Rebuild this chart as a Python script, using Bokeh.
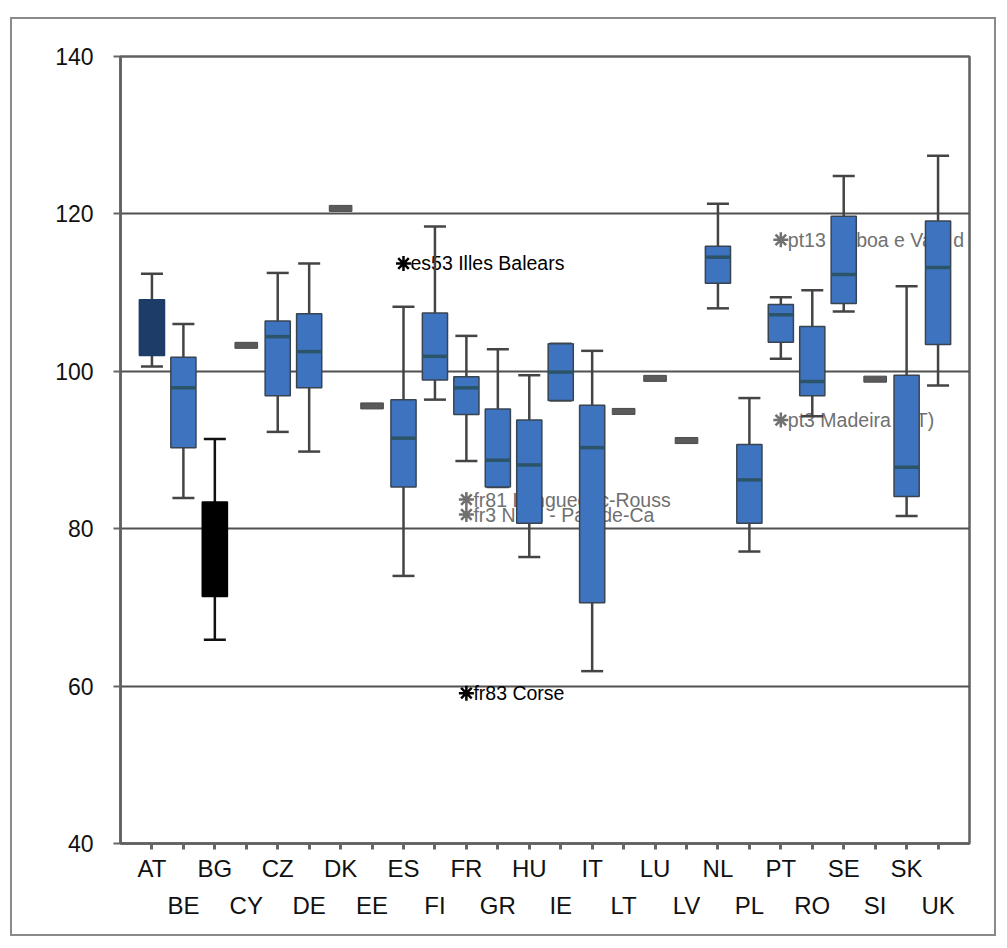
from bokeh.plotting import figure
from bokeh.models import Range1d, FixedTicker, LinearAxis, ColumnDataSource
from bokeh.embed import file_html
from bokeh.resources import INLINE
from bokeh.core.properties import value

# ---------------- data ----------------
categories = ["AT", "BE", "BG", "CY", "CZ", "DE", "DK", "EE", "ES", "FI", "FR", "GR", "HU",
              "IE", "IT", "LT", "LU", "LV", "NL", "PL", "PT", "RO", "SE", "SI", "SK", "UK"]

box_cats = ["AT", "BE", "BG", "CZ", "DE", "ES", "FI", "FR", "GR", "HU", "IE", "IT", "NL",
            "PL", "PT", "RO", "SE", "SK", "UK"]
box_lower = [100.6, 83.9, 65.9, 92.3, 89.8, 74.0, 96.4, 88.6, 85.3, 76.4, 96.3, 61.9, 108.0,
             77.1, 101.6, 94.3, 107.6, 81.6, 98.2]
box_q1 = [102.0, 90.3, 71.4, 96.9, 97.9, 85.3, 98.9, 94.5, 85.3, 80.7, 96.3, 70.6, 111.2,
          80.7, 103.7, 96.9, 108.6, 84.1, 103.4]
box_median = [104.5, 97.9, 77.0, 104.4, 102.5, 91.5, 101.9, 97.9, 88.7, 88.1, 99.9, 90.3, 114.5,
              86.2, 107.2, 98.7, 112.3, 87.8, 113.2]
box_q3 = [109.1, 101.8, 83.4, 106.4, 107.3, 96.4, 107.4, 99.3, 95.2, 93.8, 103.5, 95.7, 115.9,
          90.7, 108.5, 105.7, 119.7, 99.5, 119.1]
box_upper = [112.4, 106.0, 91.4, 112.5, 113.7, 108.2, 118.4, 104.5, 102.8, 99.5, 103.5, 102.6, 121.3,
             96.6, 109.4, 110.3, 124.8, 110.8, 127.4]

single_cats = ["CY", "DK", "EE", "LT", "LU", "LV", "SI"]
single_vals = [103.3, 120.7, 95.6, 94.9, 99.1, 91.2, 99.0]

outlier_cats = ["ES", "FR", "FR", "FR", "PT", "PT"]
outlier_vals = [113.7, 83.7, 81.8, 59.1, 116.7, 93.8]
outlier_labels = ["es53 Illes Balears", "fr81 Languedoc-Rouss", "fr3 Nord - Pas-de-Ca",
                  "fr83 Corse", "pt13 Lisboa e Vale d", "pt3 Madeira (PT)"]

y_ticks = [40, 60, 80, 100, 120, 140]
grid_vals = [60, 80, 100, 120]

# ---------------- styles ----------------
FONT = "Liberation Sans"
BOX_BLUE = "#3d73bf"
special_fill = {"AT": "#1d3c68", "BG": "#000000"}
black_labels = {"es53 Illes Balears", "fr83 Corse"}

pos = {c: i + 1 for i, c in enumerate(categories)}

bx = [pos[c] for c in box_cats]
fills = [special_fill.get(c, BOX_BLUE) for c in box_cats]
outlines = ["#000000" if c == "BG" else ("#1d3c68" if c == "AT" else "#3a4450") for c in box_cats]
med_cols = [special_fill.get(c, "#2c5468") for c in box_cats]
whisk_cols = ["#111111" if c == "BG" else "#444444" for c in box_cats]

box_src = ColumnDataSource(dict(
    x=bx, lo=box_lower, q1=box_q1, med=box_median, q3=box_q3, hi=box_upper,
    xl=[x - 0.35 for x in bx], xr=[x + 0.35 for x in bx],
    ml=[x - 0.4 for x in bx], mr=[x + 0.4 for x in bx],
    fill=fills, outline=outlines, medc=med_cols, wc=whisk_cols,
))

p = figure(width=986, height=919, x_range=Range1d(0, 27), y_range=Range1d(40, 140),
           output_backend="svg", toolbar_location=None,
           min_border_left=108, min_border_top=37, min_border_right=29, min_border_bottom=95,
           x_axis_location=None, y_axis_location="left")
p.styles = {"border": "2px solid #8a8a8a", "margin-left": "10px", "margin-top": "17px"}
p.background_fill_color = "white"
p.border_fill_color = "white"
p.outline_line_color = "#606060"
p.outline_line_width = 2.5

# y axis
ya = p.yaxis[0]
ya.ticker = FixedTicker(ticks=y_ticks)
ya.minor_tick_line_color = None
ya.axis_line_color = "#606060"
ya.axis_line_width = 2.5
ya.major_tick_line_color = "#666666"
ya.major_tick_line_width = 2
ya.major_tick_out = 7
ya.major_tick_in = 0
ya.major_label_standoff = 20
ya.major_label_text_font = FONT
ya.major_label_text_font_size = "23px"
ya.major_label_text_color = "#111111"

# x axes (staggered labels)
xticks = [pos[c] for c in categories]
x1 = LinearAxis(ticker=FixedTicker(ticks=xticks))
x1.major_label_overrides = {pos[c]: (c if i % 2 == 0 else "") for i, c in enumerate(categories)}
x1.minor_tick_line_color = None
x1.axis_line_color = "#606060"
x1.axis_line_width = 2.5
x1.major_tick_line_color = "#666666"
x1.major_tick_line_width = 3
x1.major_tick_out = 6
x1.major_tick_in = 0
x1.major_label_standoff = 5
x1.major_label_text_font = FONT
x1.major_label_text_font_size = "24px"
x1.major_label_text_color = "#111111"
p.add_layout(x1, "below")

odd_ticks = [pos[c] for i, c in enumerate(categories) if i % 2 == 1]
x2 = LinearAxis(ticker=FixedTicker(ticks=odd_ticks))
x2.major_label_overrides = {pos[c]: c for i, c in enumerate(categories) if i % 2 == 1}
x2.minor_tick_line_color = None
x2.axis_line_color = None
x2.major_tick_line_color = None
x2.major_tick_out = 0
x2.major_tick_in = 0
x2.major_label_standoff = 7
x2.major_label_text_font = FONT
x2.major_label_text_font_size = "24px"
x2.major_label_text_color = "#111111"
p.add_layout(x2, "below")

# grid
p.xgrid.grid_line_color = None
p.ygrid.ticker = FixedTicker(ticks=grid_vals)
p.ygrid.grid_line_color = "#505050"
p.ygrid.grid_line_width = 2.2

# outlier labels (drawn under the boxes)
ox = [pos[c] for c in outlier_cats]
ocol = ["#000000" if t in black_labels else "#707070" for t in outlier_labels]
osrc = ColumnDataSource(dict(x=ox, y=outlier_vals, t=outlier_labels, c=ocol))
p.text(x="x", y="y", text="t", source=osrc, x_offset=7, text_baseline="middle",
       text_align="left", text_font=value(FONT), text_font_size="19.5px", text_color="c")
p.scatter(x="x", y="y", source=osrc, marker="asterisk", size=15, line_color="c", line_width=2.5)

# whiskers and caps
p.segment(x0="x", y0="q3", x1="x", y1="hi", source=box_src, line_color="wc", line_width=2.5)
p.segment(x0="x", y0="q1", x1="x", y1="lo", source=box_src, line_color="wc", line_width=2.5)
p.segment(x0="xl", y0="hi", x1="xr", y1="hi", source=box_src, line_color="wc", line_width=2.5)
p.segment(x0="xl", y0="lo", x1="xr", y1="lo", source=box_src, line_color="wc", line_width=2.5)

# boxes
p.vbar(x="x", width=0.8, bottom="q1", top="q3", source=box_src,
       fill_color="fill", line_color="outline", line_width=1.5)
p.segment(x0="ml", y0="med", x1="mr", y1="med", source=box_src, line_color="medc", line_width=3.5)

# single-value markers
sx = [pos[c] for c in single_cats]
p.rect(x=sx, y=single_vals, width=0.72, height=6, height_units="screen",
       fill_color="#5a5a5a", line_color="#4a4a4a", line_width=1)

open("out.html", "w").write(file_html(p, INLINE))
